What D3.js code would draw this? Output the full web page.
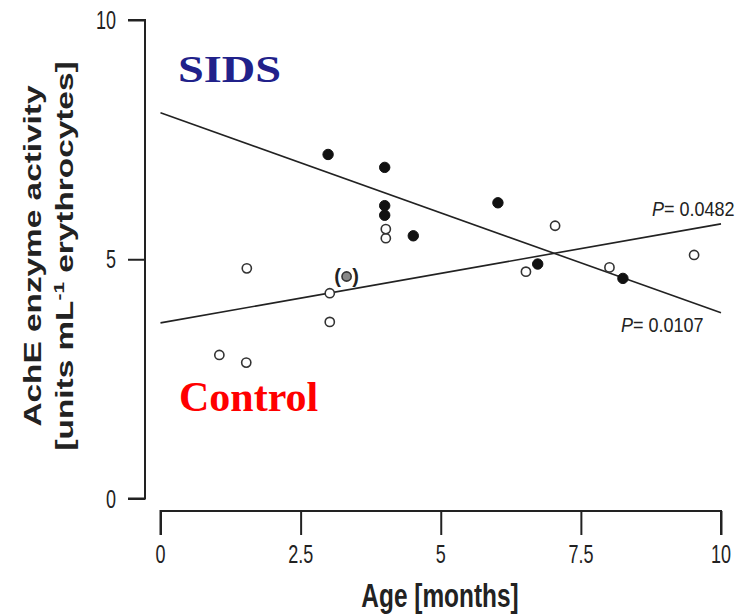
<!DOCTYPE html>
<html>
<head>
<meta charset="utf-8">
<script src="https://cdn.jsdelivr.net/npm/d3@7"></script>
<style>
  html, body { margin: 0; padding: 0; background: #fff; }
  svg { display: block; }
</style>
</head>
<body>
<script>
// Age (months) and AchE activity for each infant
const sidsAge      = [2.99, 4.0, 4.0, 4.0, 4.51, 6.02, 6.73, 8.25];
const sidsActivity = [7.19, 6.92, 6.12, 5.92, 5.49, 6.18, 4.90, 4.60];

const controlAge      = [1.05, 1.53, 1.54, 3.02, 3.02, 4.02, 4.02, 6.52, 7.04, 8.01, 9.52];
const controlActivity = [3.00, 2.84, 4.81, 3.69, 4.29, 5.44, 5.63, 4.74, 5.70, 4.83, 5.09];

// excluded control case, shown in parentheses
const outlierAge = [3.32];
const outlierActivity = [4.64];

// fitted regression lines (age at ends, activity at ends)
const fitAge = [0, 10];
const sidsFit = [8.06, 3.88];
const controlFit = [3.67, 5.74];

const xTicks = [0, 2.5, 5, 7.5, 10];
const yTicks = [0, 5, 10];
const pValues = ["0.0482", "0.0107"];

const W = 749, H = 615;
const svg = d3.select("body").append("svg").attr("width", W).attr("height", H);

const x = d3.scaleLinear().domain([0, 10]).range([160.5, 721]);
const y = d3.scaleLinear().domain([0, 10]).range([498.5, 20]);

const sans = "'Liberation Sans', Arial, sans-serif";
const serif = "'Liberation Serif', 'Times New Roman', serif";
const ink = "#222";

// ---- axes (detached, R style) ----
const yAxisX = 145;
const xAxisY = 511;

const yAxis = d3.axisLeft(y).tickValues(yTicks).tickSize(17).tickFormat("");
svg.append("g").attr("transform", `translate(${yAxisX},0)`).call(yAxis)
  .call(g => g.selectAll("path.domain").attr("d", `M-17,${y(10)}H0V${y(0)}H-17`))
  .call(g => g.selectAll("path, line").attr("stroke", ink).attr("stroke-width", 2));

const xAxis = d3.axisBottom(x).tickValues(xTicks).tickSize(24).tickFormat("");
svg.append("g").attr("transform", `translate(0,${xAxisY})`).call(xAxis)
  .call(g => g.selectAll("path.domain").attr("d", `M${x(0)},24V0H${x(10)}V24`))
  .call(g => g.selectAll("path, line").attr("stroke", ink).attr("stroke-width", 2));

// tick labels, condensed sans
svg.append("g").selectAll("text").data(yTicks).join("text")
  .attr("transform", d => `translate(116,${y(d) + 9}) scale(0.72,1)`)
  .attr("text-anchor", "end")
  .attr("font-family", sans).attr("font-size", 25).attr("fill", ink)
  .text(d => d);

svg.append("g").selectAll("text").data(xTicks).join("text")
  .attr("transform", d => `translate(${x(d)},563) scale(0.72,1)`)
  .attr("text-anchor", "middle")
  .attr("font-family", sans).attr("font-size", 25).attr("fill", ink)
  .text(d => d);

// axis titles
svg.append("text")
  .attr("transform", `translate(440,607) scale(0.74,1)`)
  .attr("text-anchor", "middle")
  .attr("font-family", sans).attr("font-size", 33).attr("font-weight", "bold").attr("fill", ink)
  .text("Age [months]");

const yTitle = svg.append("g").attr("transform", "translate(0,256) rotate(-90)");
yTitle.append("text")
  .attr("transform", "translate(0,41) scale(1.39,1)")
  .attr("text-anchor", "middle")
  .attr("font-family", sans).attr("font-size", 24).attr("font-weight", "bold").attr("fill", ink)
  .text("AchE enzyme activity");
const t2 = yTitle.append("text")
  .attr("transform", "translate(0,73) scale(1.39,1)")
  .attr("text-anchor", "middle")
  .attr("font-family", sans).attr("font-size", 24).attr("font-weight", "bold").attr("fill", ink);
t2.append("tspan").text("[units mL");
t2.append("tspan").attr("font-size", 15).attr("dy", -9).text("-1");
t2.append("tspan").attr("dy", 9).text(" erythrocytes]");

// ---- regression lines ----
const line = d3.line().x(d => x(d[0])).y(d => y(d[1]));
svg.append("path").datum(fitAge.map((a, i) => [a, sidsFit[i]]))
  .attr("d", line).attr("fill", "none").attr("stroke", ink).attr("stroke-width", 1.6);
svg.append("path").datum(fitAge.map((a, i) => [a, controlFit[i]]))
  .attr("d", line).attr("fill", "none").attr("stroke", ink).attr("stroke-width", 1.6);

// ---- points ----
svg.append("g").selectAll("circle").data(controlAge.map((a, i) => [a, controlActivity[i]])).join("circle")
  .attr("cx", d => x(d[0])).attr("cy", d => y(d[1])).attr("r", 4.6)
  .attr("fill", "#fff").attr("stroke", "#333").attr("stroke-width", 1.6);

svg.append("g").selectAll("circle").data(sidsAge.map((a, i) => [a, sidsActivity[i]])).join("circle")
  .attr("cx", d => x(d[0])).attr("cy", d => y(d[1])).attr("r", 5.2)
  .attr("fill", "#111").attr("stroke", "#111").attr("stroke-width", 1);

const outliers = outlierAge.map((a, i) => [a, outlierActivity[i]]);
const og = svg.append("g").selectAll("g").data(outliers).join("g")
  .attr("transform", d => `translate(${x(d[0])},${y(d[1])})`);
og.append("circle").attr("r", 4.6).attr("fill", "#888").attr("stroke", "#333").attr("stroke-width", 1.6);
og.append("text").attr("x", -9).attr("y", 7).attr("text-anchor", "middle")
  .attr("font-family", sans).attr("font-size", 20).attr("font-weight", "bold").attr("fill", ink).text("(");
og.append("text").attr("x", 9).attr("y", 7).attr("text-anchor", "middle")
  .attr("font-family", sans).attr("font-size", 20).attr("font-weight", "bold").attr("fill", ink).text(")");

// ---- P values ----
function pLabel(px, py, val) {
  const t = svg.append("text")
    .attr("transform", `translate(${px},${py}) scale(0.9,1)`)
    .attr("font-family", sans).attr("font-size", 20).attr("fill", ink);
  t.append("tspan").attr("font-style", "italic").text("P");
  t.append("tspan").text("= " + val);
}
pLabel(652, 216, pValues[0]);
pLabel(621, 332, pValues[1]);

// ---- group labels ----
svg.append("text")
  .attr("transform", "translate(178,82) scale(1.22,1)")
  .attr("font-family", serif).attr("font-size", 38).attr("font-weight", "bold").attr("fill", "#21218a")
  .text("SIDS");
svg.append("text")
  .attr("transform", "translate(179,411)")
  .attr("font-family", serif).attr("font-size", 42).attr("font-weight", "bold").attr("fill", "#ff0000")
  .text("Control");
</script>
</body>
</html>
